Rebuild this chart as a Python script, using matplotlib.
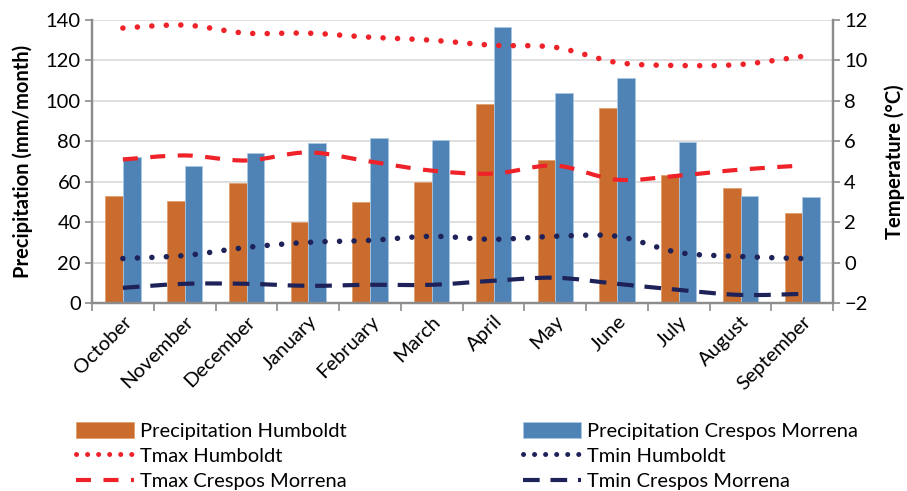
import matplotlib
matplotlib.use('Agg')
import matplotlib.pyplot as plt
import numpy as np
from matplotlib.path import Path
from matplotlib.patches import PathPatch, Patch
from matplotlib.lines import Line2D

months = ["October", "November", "December", "January", "February", "March",
          "April", "May", "June", "July", "August", "September"]
precip_humboldt = [53, 50.5, 59.5, 40, 50, 60, 98.5, 70.5, 96.5, 63.5, 57, 44.5]
precip_crespos = [72, 68, 74, 79, 81.5, 80.5, 136.5, 104, 111.5, 79.5, 53, 52.5]
tmax_humboldt = [11.6, 11.75, 11.35, 11.35, 11.15, 11.0, 10.75, 10.65, 9.9, 9.75, 9.8, 10.2]
tmax_crespos = [5.1, 5.3, 5.05, 5.45, 5.0, 4.55, 4.4, 4.8, 4.1, 4.3, 4.6, 4.8]
tmin_humboldt = [0.2, 0.35, 0.75, 1.0, 1.1, 1.3, 1.15, 1.3, 1.3, 0.5, 0.3, 0.2]
tmin_crespos = [-1.25, -1.05, -1.05, -1.15, -1.1, -1.1, -0.9, -0.75, -1.05, -1.35, -1.6, -1.55]

FONT = ['Lato', 'DejaVu Sans']
plt.rcParams['font.family'] = FONT
FS = 14.5

C_OR = '#C96C2E'
C_BL = '#4F83B5'
C_RED = '#EE2228'
C_NAVY = '#1E2258'
C_AX = '#8C8C8C'


def smooth_path(x, y):
    P = np.column_stack([np.asarray(x, float), np.asarray(y, float)])
    n = len(P)
    verts = [P[0]]
    codes = [Path.MOVETO]
    for i in range(n - 1):
        p0 = P[i - 1] if i > 0 else P[i]
        p1 = P[i]
        p2 = P[i + 1]
        p3 = P[i + 2] if i + 2 < n else P[i + 1]
        c1 = p1 + (p2 - p0) / 6.0
        c2 = p2 - (p3 - p1) / 6.0
        verts += [c1, c2, p2]
        codes += [Path.CURVE4] * 3
    return Path(verts, codes)


fig = plt.figure(figsize=(9.07, 4.91), dpi=100)
ax = fig.add_axes([92 / 907, 1 - 303 / 491, (833 - 92) / 907, (303 - 20) / 491])

x = np.arange(len(months))
bw = 0.285
ax.bar(x - 0.14, precip_humboldt, width=bw, color=C_OR, edgecolor='#E0A070', linewidth=0.6, zorder=2)
ax.bar(x + 0.145, precip_crespos, width=bw, color=C_BL, edgecolor='#A9C6E3', linewidth=0.6, zorder=2)

ax.set_xlim(-0.5, 11.5)
ax.set_ylim(0, 140)
ax.set_yticks(np.arange(0, 141, 20))
ax.yaxis.grid(True, color='#D9D9D9', linewidth=1.2, zorder=0)
ax.set_axisbelow(True)
ax.set_xticks(np.arange(-0.5, 12, 1))
ax.set_xticklabels([])
ax.set_xticks(x, minor=True)
ax.set_xticklabels(months, minor=True, rotation=45, ha='right', va='top',
                   rotation_mode='anchor', fontsize=FS)
ax.tick_params(axis='x', which='major', length=6, width=1.2, color=C_AX)
ax.tick_params(axis='x', which='minor', length=0, pad=7)
ax.tick_params(axis='y', length=5, width=1.2, color=C_AX, labelsize=FS, pad=3)
ax.spines['top'].set_visible(False)
for s in ['left', 'right', 'bottom']:
    ax.spines[s].set_color(C_AX)
    ax.spines[s].set_linewidth(1.6)
ax.set_ylabel('Precipitation (mm/month)', fontsize=FS, fontweight='bold', labelpad=9)

ax2 = ax.twinx()
ax2.set_ylim(-2, 12)
ax2.set_yticks(np.arange(-2, 13, 2))
ax2.tick_params(axis='y', length=5, width=1.2, color=C_AX, labelsize=FS, pad=3)
ax2.spines['top'].set_visible(False)
for s in ['left', 'right', 'bottom']:
    ax2.spines[s].set_color(C_AX)
    ax2.spines[s].set_linewidth(1.6)
ax2.set_ylabel('Temperature (°C)', fontsize=FS, fontweight='bold', labelpad=12)

dot_ls = (0, (0.01, 2.6))
dash_ls = (0, (3.6, 3.0))
dash_ls2 = (0, (4.0, 2.6))
styles = [
    (tmax_humboldt, C_RED, dot_ls, 4.0, 'round'),
    (tmax_crespos, C_RED, dash_ls, 3.0, 'butt'),
    (tmin_humboldt, C_NAVY, dot_ls, 4.0, 'round'),
    (tmin_crespos, C_NAVY, dash_ls2, 3.0, 'butt'),
]
for vals, col, ls, lw, cap in styles:
    p = PathPatch(smooth_path(x, vals), fill=False, edgecolor=col, linewidth=lw,
                  linestyle=ls, capstyle=cap, zorder=3)
    ax2.add_patch(p)

h_ph = Patch(facecolor=C_OR, edgecolor='#E0A070', linewidth=0.6)
h_pc = Patch(facecolor=C_BL, edgecolor='#A9C6E3', linewidth=0.6)
h_txh = Line2D([], [], color=C_RED, linewidth=3.6, linestyle=(0, (0.01, 2.2)), dash_capstyle='round')
h_txc = Line2D([], [], color=C_RED, linewidth=3.0, linestyle=dash_ls)
h_tnh = Line2D([], [], color=C_NAVY, linewidth=3.6, linestyle=(0, (0.01, 2.2)), dash_capstyle='round')
h_tnc = Line2D([], [], color=C_NAVY, linewidth=3.0, linestyle=dash_ls2)

leg_kw = dict(frameon=False, fontsize=FS, handlelength=2.9, handleheight=0.85,
              handletextpad=0.3, labelspacing=0.36, borderpad=0, borderaxespad=0,
              loc='upper left')
fig.legend([h_ph, h_txh, h_txc],
           ['Precipitation Humboldt', 'Tmax Humboldt', 'Tmax Crespos Morrena'],
           bbox_to_anchor=(76 / 907, 1 - 421.5 / 491), **leg_kw)
fig.legend([h_pc, h_tnh, h_tnc],
           ['Precipitation Crespos Morrena', 'Tmin Humboldt', 'Tmin Crespos Morrena'],
           bbox_to_anchor=(523 / 907, 1 - 421.5 / 491), **leg_kw)

fig.savefig('out.png', dpi=100)
